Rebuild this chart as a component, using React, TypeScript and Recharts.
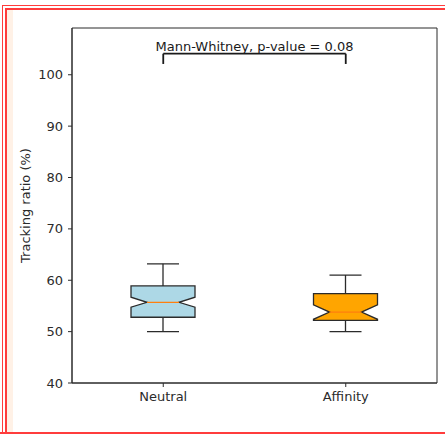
import { ComposedChart, Bar, XAxis, YAxis, ReferenceLine, ReferenceArea, Label } from 'recharts';

const categories = ['Neutral', 'Affinity'];
const whiskerLow = [50, 50];
const q1 = [52.8, 52.2];
const median = [55.7, 53.8];
const q3 = [58.9, 57.4];
const whiskerHigh = [63.2, 61.0];
const notchLow = [54.75, 52.4];
const notchHigh = [56.7, 55.2];
const yTicks = [40, 50, 60, 70, 80, 90, 100];
const bracketY = 104.1;
const bracketTickY = 102.1;
const pValueText = 'Mann-Whitney, p-value = 0.08';

const boxColors = ['#add8e6', '#ffa500'];
const FONT = '"DejaVu Sans", sans-serif';
const FS = 13;
const INK = '#2b2b2b';
const RED = '#ff3c3c';

const data = categories.map((name, i) => ({
    name,
    range: [whiskerLow[i], whiskerHigh[i]],
    q1: q1[i],
    median: median[i],
    q3: q3[i],
    notchLow: notchLow[i],
    notchHigh: notchHigh[i],
}));

function BoxShape(props: any) {
    const { x, y, width, height, payload } = props;
    const idx = categories.indexOf(payload.name);
    const [lo, hi] = payload.range;
    const top = Math.min(y, y + height);
    const h = Math.abs(height);
    const py = (v: number) => top + ((hi - v) / (hi - lo)) * h;
    const cx = x + width / 2;
    const l = x;
    const r = x + width;
    const capHalf = width / 4;
    const inner = width / 4;
    const pts = [
        [l, py(payload.q3)],
        [r, py(payload.q3)],
        [r, py(payload.notchHigh)],
        [cx + inner, py(payload.median)],
        [r, py(payload.notchLow)],
        [r, py(payload.q1)],
        [l, py(payload.q1)],
        [l, py(payload.notchLow)],
        [cx - inner, py(payload.median)],
        [l, py(payload.notchHigh)],
    ]
        .map((p) => p.join(','))
        .join(' ');
    return (
        <g>
            <line x1={cx} x2={cx} y1={py(lo)} y2={py(payload.q1)} stroke={INK} strokeWidth={1.3} />
            <line x1={cx} x2={cx} y1={py(hi)} y2={py(payload.q3)} stroke={INK} strokeWidth={1.3} />
            <line x1={cx - capHalf} x2={cx + capHalf} y1={py(lo)} y2={py(lo)} stroke={INK} strokeWidth={1.3} />
            <line x1={cx - capHalf} x2={cx + capHalf} y1={py(hi)} y2={py(hi)} stroke={INK} strokeWidth={1.3} />
            <polygon points={pts} fill={boxColors[idx]} stroke={INK} strokeWidth={1.3} strokeLinejoin="miter" />
            <line x1={cx - inner} x2={cx + inner} y1={py(payload.median)} y2={py(payload.median)} stroke="#ff7f0e" strokeWidth={1.3} />
        </g>
    );
}

function Frame() {
    return (
        <>
            <div style={{ position: 'absolute', left: 7, top: 10, width: 6, bottom: 2, background: '#fff1e6' }} />
            <div style={{ position: 'absolute', left: 2, top: 5, right: 0, height: 1, background: RED }} />
            <div style={{ position: 'absolute', left: 2, top: 5, width: 1, bottom: 0, background: RED }} />
            <div style={{ position: 'absolute', left: 5, top: 8, right: 0, height: 2, background: RED }} />
            <div style={{ position: 'absolute', left: 5, top: 8, width: 2, bottom: 0, background: RED }} />
            <div style={{ position: 'absolute', left: 0, top: 432, right: 0, height: 2, background: RED }} />
        </>
    );
}

export default function App() {
    return (
        <div style={{ position: 'absolute', left: 0, top: 0, width: 445, height: 434, background: '#fff', overflow: 'hidden', fontFamily: FONT }}>
            <Frame />
            <div style={{ position: 'absolute', left: 0, top: 0 }}>
                <ComposedChart width={445} height={434} data={data} margin={{ top: 28, right: 8, bottom: 21, left: 22 }}>
                    <XAxis
                        dataKey="name"
                        type="category"
                        stroke={INK}
                        tickSize={4}
                        tickMargin={5}
                        tick={{ fill: INK, fontSize: FS, fontFamily: FONT }}
                        height={30}
                    />
                    <YAxis
                        domain={[40, 109.1]}
                        ticks={yTicks}
                        allowDataOverflow
                        stroke={INK}
                        tickSize={4}
                        tickMargin={5}
                        width={50}
                        tick={{ fill: INK, fontSize: FS, fontFamily: FONT }}
                    >
                        <Label
                            content={(p: any) => {
                                const vb = p.viewBox || {};
                                const cy = (vb.y ?? 28) + (vb.height ?? 355) / 2;
                                return (
                                    <text x={30} y={cy} transform={`rotate(-90 30 ${cy})`} textAnchor="middle" fill={INK} fontSize={FS} fontFamily={FONT}>
                                        Tracking ratio (%)
                                    </text>
                                );
                            }}
                        />
                    </YAxis>
                    <ReferenceArea y1={40} y2={109.1} fill="none" stroke={INK} strokeWidth={1} ifOverflow="visible" />
                    <Bar dataKey="range" barSize={64} shape={BoxShape} isAnimationActive={false} />
                    <ReferenceLine
                        segment={[{ x: categories[0], y: bracketY }, { x: categories[1], y: bracketY }]}
                        stroke="#1a1a1a"
                        strokeWidth={1.8}
                        ifOverflow="visible"
                    >
                        <Label value={pValueText} position="top" offset={3} fill="#1a1a1a" fontSize={FS} fontFamily={FONT} />
                    </ReferenceLine>
                    <ReferenceLine
                        segment={[{ x: categories[0], y: bracketY }, { x: categories[0], y: bracketTickY }]}
                        stroke="#1a1a1a"
                        strokeWidth={1.8}
                        ifOverflow="visible"
                    />
                    <ReferenceLine
                        segment={[{ x: categories[1], y: bracketY }, { x: categories[1], y: bracketTickY }]}
                        stroke="#1a1a1a"
                        strokeWidth={1.8}
                        ifOverflow="visible"
                    />
                </ComposedChart>
            </div>
        </div>
    );
}
